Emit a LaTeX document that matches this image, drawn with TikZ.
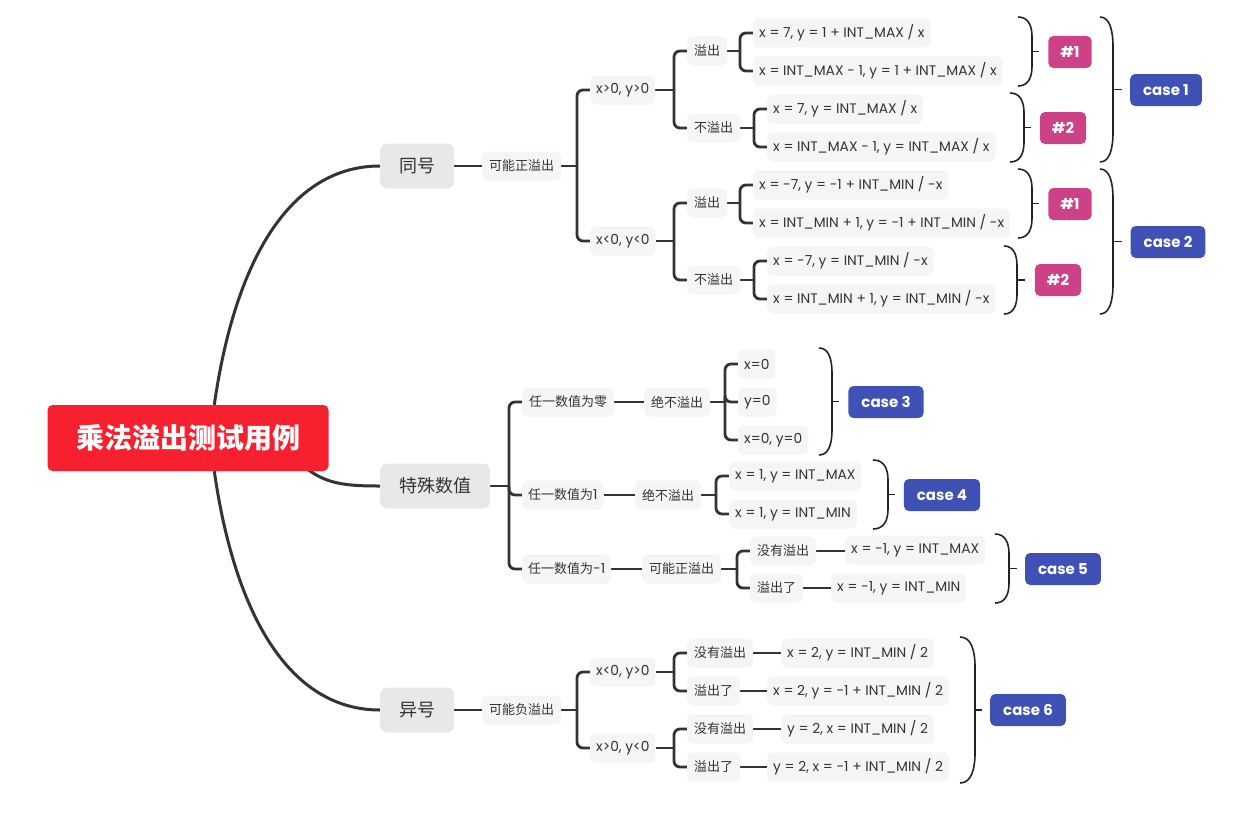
\documentclass[tikz,border=0pt]{standalone}
\usepackage{fontspec}
\setmainfont{Poppins}
\newfontfamily\cjk{Noto Sans CJK SC}
\usetikzlibrary{calc,backgrounds}
\definecolor{rootred}{HTML}{F7202F}
\definecolor{lonegray}{HTML}{E8E8E8}
\definecolor{ltwogray}{HTML}{F5F5F5}
\definecolor{txt}{HTML}{333333}
\definecolor{lnk}{HTML}{333333}
\definecolor{brc}{HTML}{222222}
\definecolor{tagmag}{HTML}{CD4287}
\definecolor{caseblue}{HTML}{3F51B5}
\newcommand{\mmlink}[2]{%
  \path ($(#2.west)+(-13pt,0pt)$) coordinate (mmj);
  \draw[conn] (#1.east) -- (#1.east -| mmj);
  \draw[conn,rounded corners=6pt] (#1.east -| mmj) |- (#2.west);}
\newcommand{\mmstraight}[2]{\draw[conn] (#1.east) -- (#1.east -| #2.west);}
\newcommand{\mmbrace}[6]{%
  \draw[sbrace] (#1,#3) .. controls ({#1+0.75*#2},#3) and ({#1+#2},{#3+0.45*#5}) .. ({#1+#2},{#3+#5}) -- ({#1+#2},{#4-#5}) .. controls ({#1+#2},{#4-0.45*#5}) and ({#1+0.75*#2},#4) .. (#1,#4);
  \draw[sbrace] ({#1+#2},{(#3+#4)/2}) -- ++(#6,0);}
\begin{document}
\begin{tikzpicture}[x=1pt,y=-1pt,
  rootbox/.style={rounded corners=5pt, fill=rootred, text=white, font=\cjk\bfseries\fontsize{28}{30}\selectfont, minimum width=281pt, minimum height=66pt, inner sep=0pt},
  lone/.style={rounded corners=7pt, fill=lonegray, text=txt, font=\cjk\fontsize{18}{20}\selectfont, minimum height=45pt, inner xsep=19pt, inner ysep=0pt, anchor=west},
  ltwo/.style={rounded corners=6pt, fill=ltwogray, text=txt, font=\fontsize{13.8}{15}\selectfont, minimum height=29pt, inner xsep=6pt, inner ysep=0pt, anchor=west},
  ltwoc/.style={ltwo, font=\cjk\fontsize{13}{15}\selectfont, inner xsep=7pt},
  tagbox/.style={rounded corners=5pt, fill=tagmag, text=white, font=\bfseries\fontsize{15}{17}\selectfont, minimum height=32pt, inner xsep=12pt, inner ysep=0pt},
  casebox/.style={rounded corners=5pt, fill=caseblue, text=white, font=\bfseries\fontsize{15}{17}\selectfont, minimum height=32pt, inner xsep=13pt, inner ysep=0pt},
  conn/.style={line width=2.8pt, draw=lnk},
  mcurve/.style={line width=3pt, draw=lnk},
  sbrace/.style={line width=1.6pt, draw=brc}]
\useasboundingbox (0,0) rectangle (1257,816);

% root and level 1
\node[rootbox] (root) at (188,438) {乘法溢出测试用例};
\node[lone] (th) at (380,166) {同号};
\node[lone] (ts) at (380,486) {特殊数值};
\node[lone] (yh) at (380,710) {异号};

% 同号 branch
\node[ltwoc] (a) at (482,166) {可能正溢出};
\node[ltwo] (a1) at (590,90) {x>0, y>0};
\node[ltwo] (a2) at (590,241) {x<0, y<0};
\node[ltwoc] (a11) at (687,51) {溢出};
\node[ltwoc] (a12) at (687,128) {不溢出};
\node[ltwoc] (a21) at (687,203) {溢出};
\node[ltwoc] (a22) at (687,280) {不溢出};
\node[ltwo] (a111) at (753,33) {x = 7, y = 1 + INT\_MAX / x};
\node[ltwo] (a112) at (753,71) {x = INT\_MAX - 1, y = 1 + INT\_MAX / x};
\node[ltwo] (a121) at (767,109) {x = 7, y = INT\_MAX / x};
\node[ltwo] (a122) at (767,147) {x = INT\_MAX - 1, y = INT\_MAX / x};
\node[ltwo] (a211) at (753,185) {x = -7, y = -1 + INT\_MIN / -x};
\node[ltwo] (a212) at (753,223) {x = INT\_MIN + 1, y = -1 + INT\_MIN / -x};
\node[ltwo] (a221) at (767,261) {x = -7, y = INT\_MIN / -x};
\node[ltwo] (a222) at (767,299) {x = INT\_MIN + 1, y = INT\_MIN / -x};
\node[tagbox] (t1) at (1070,52) {\#1};
\node[tagbox] (t2) at (1063,128) {\#2};
\node[tagbox] (t3) at (1070,204) {\#1};
\node[tagbox] (t4) at (1058,280) {\#2};
\node[casebox] (c1) at (1166,90) {case 1};
\node[casebox] (c2) at (1168,242) {case 2};

% 特殊数值 branch
\node[ltwoc] (b1) at (522,402) {任一数值为零};
\node[ltwoc] (b1a) at (644,402) {绝不溢出};
\node[ltwo] (b1x) at (738,364) {x=0};
\node[ltwo] (b1y) at (738,402) {y=0};
\node[ltwo] (b1z) at (738,440) {x=0, y=0};
\node[casebox] (c3) at (886,402) {case 3};
\node[ltwo] (b2) at (522,495) {{\cjk\fontsize{13}{15}\selectfont 任一数值为}1};
\node[ltwoc] (b2a) at (635,495) {绝不溢出};
\node[ltwo] (b2x) at (729,476) {x = 1, y = INT\_MAX};
\node[ltwo] (b2y) at (729,514) {x = 1, y = INT\_MIN};
\node[casebox] (c4) at (942,495) {case 4};
\node[ltwo] (b3) at (522,569) {{\cjk\fontsize{13}{15}\selectfont 任一数值为}-1};
\node[ltwoc] (b3a) at (642,569) {可能正溢出};
\node[ltwoc] (b31) at (750,551) {没有溢出};
\node[ltwoc] (b32) at (750,588) {溢出了};
\node[ltwo] (b311) at (845,550) {x = -1, y = INT\_MAX};
\node[ltwo] (b321) at (831,588) {x = -1, y = INT\_MIN};
\node[casebox] (c5) at (1063,569) {case 5};

% 异号 branch
\node[ltwoc] (d) at (482,710) {可能负溢出};
\node[ltwo] (d1) at (590,672) {x<0, y>0};
\node[ltwo] (d2) at (590,748) {x>0, y<0};
\node[ltwoc] (d11) at (687,653) {没有溢出};
\node[ltwoc] (d12) at (687,691) {溢出了};
\node[ltwoc] (d21) at (687,729) {没有溢出};
\node[ltwoc] (d22) at (687,767) {溢出了};
\node[ltwo] (d111) at (781,653) {x = 2, y = INT\_MIN / 2};
\node[ltwo] (d121) at (767,691) {x = 2, y = -1 + INT\_MIN / 2};
\node[ltwo] (d211) at (781,729) {y = 2, x = INT\_MIN / 2};
\node[ltwo] (d221) at (767,767) {y = 2, x = -1 + INT\_MIN / 2};
\node[casebox] (c6) at (1028,710) {case 6};

\begin{scope}[on background layer]
% main curves
\draw[mcurve] ([xshift=167pt]root.north west) .. controls (235,260) and (290,166) .. (th.west);
\draw[mcurve] ([xshift=167pt]root.south west) .. controls (235,616) and (290,710) .. (yh.west);
\draw[mcurve] ([xshift=-25pt,yshift=5pt]root.south east) .. controls (325,484) and (345,486) .. (ts.west);
% 同号
\mmstraight{th}{a}
\mmlink{a}{a1} \mmlink{a}{a2}
\mmlink{a1}{a11} \mmlink{a1}{a12}
\mmlink{a2}{a21} \mmlink{a2}{a22}
\mmlink{a11}{a111} \mmlink{a11}{a112}
\mmlink{a12}{a121} \mmlink{a12}{a122}
\mmlink{a21}{a211} \mmlink{a21}{a212}
\mmlink{a22}{a221} \mmlink{a22}{a222}
% 特殊数值
\mmlink{ts}{b1} \mmlink{ts}{b2} \mmlink{ts}{b3}
\mmstraight{b1}{b1a}
\mmlink{b1a}{b1x} \mmlink{b1a}{b1y} \mmlink{b1a}{b1z}
\mmstraight{b2}{b2a}
\mmlink{b2a}{b2x} \mmlink{b2a}{b2y}
\mmstraight{b3}{b3a}
\mmlink{b3a}{b31} \mmlink{b3a}{b32}
\mmstraight{b31}{b311}
\mmstraight{b32}{b321}
% 异号
\mmstraight{yh}{d}
\mmlink{d}{d1} \mmlink{d}{d2}
\mmlink{d1}{d11} \mmlink{d1}{d12}
\mmlink{d2}{d21} \mmlink{d2}{d22}
\mmstraight{d11}{d111}
\mmstraight{d12}{d121}
\mmstraight{d21}{d211}
\mmstraight{d22}{d221}
\end{scope}

% summary braces
\mmbrace{1018}{14}{17}{86}{20}{7}
\mmbrace{1010}{14}{93}{162}{20}{7}
\mmbrace{1100}{13}{17}{162}{30}{9}
\mmbrace{1018}{14}{169}{238}{20}{7}
\mmbrace{1004}{13}{246}{314}{20}{8}
\mmbrace{1100}{13}{169}{314}{30}{9}
\mmbrace{819}{13}{348}{455}{25}{7}
\mmbrace{873}{15}{460}{529}{20}{7}
\mmbrace{995}{14}{534}{603}{20}{8}
\mmbrace{960}{15}{637}{783}{30}{7}
\end{tikzpicture}
\end{document}
